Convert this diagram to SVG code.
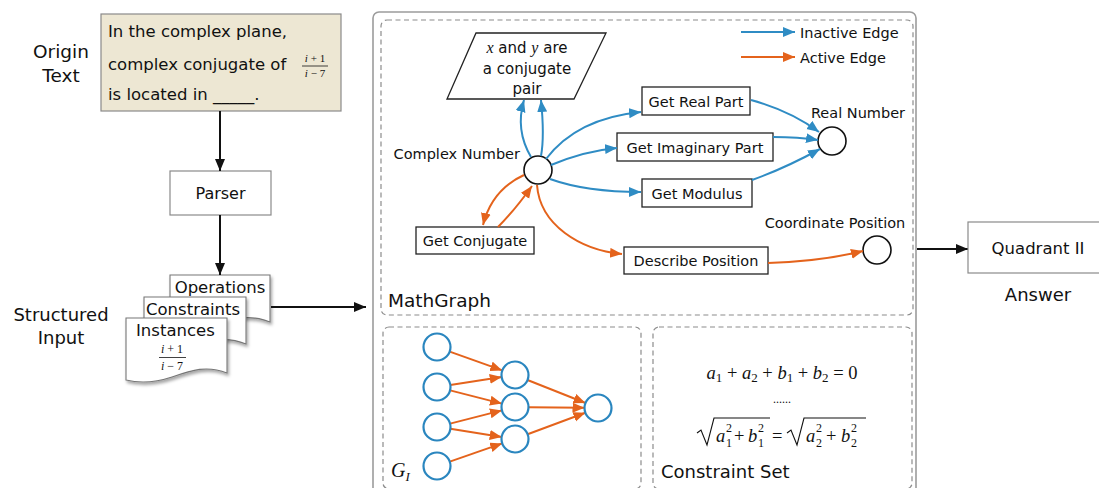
<svg xmlns="http://www.w3.org/2000/svg" width="1099" height="488" viewBox="0 0 1099 488">
  <style>
    .sans { font-family: "DejaVu Sans", "Open Sans", sans-serif; fill: #111; }
    .math { font-family: "Liberation Serif", "DejaVu Serif", serif; fill: #111; }
    .it { font-style: italic; }
    .box { fill: #fff; stroke: #222; stroke-width: 1.3; }
    .gbox { fill: #fff; stroke: #8a8a8a; stroke-width: 1.2; }
    .dash { fill: none; stroke: #8c8c8c; stroke-width: 1.2; stroke-dasharray: 5 3.5; }
    .node { fill: #fff; stroke: #111; stroke-width: 1.6; }
    .gnode { fill: #fff; stroke: #2a86bf; stroke-width: 2.2; }
    .blue { fill: none; stroke: #2f8cc4; stroke-width: 2; marker-end: url(#mBlue); }
    .orange { fill: none; stroke: #e4631c; stroke-width: 2; marker-end: url(#mOrange); }
    .black { fill: none; stroke: #111; stroke-width: 2; marker-end: url(#mBlack); }
    .doc { fill: #fff; stroke: #777; stroke-width: 1.1; filter: url(#shadow); }
  </style>
  <defs>
    <marker id="mBlue" markerUnits="userSpaceOnUse" markerWidth="14" markerHeight="12" refX="12" refY="5" orient="auto">
      <path d="M0,0 L12,5 L0,10 Z" fill="#2f8cc4"/>
    </marker>
    <marker id="mOrange" markerUnits="userSpaceOnUse" markerWidth="14" markerHeight="12" refX="12" refY="5" orient="auto">
      <path d="M0,0 L12,5 L0,10 Z" fill="#e4631c"/>
    </marker>
    <marker id="mBlack" markerUnits="userSpaceOnUse" markerWidth="14" markerHeight="12" refX="12" refY="5" orient="auto">
      <path d="M0,0 L12,5 L0,10 Z" fill="#111"/>
    </marker>
    <filter id="shadow" x="-10%" y="-10%" width="130%" height="140%">
      <feDropShadow dx="1.5" dy="2.5" stdDeviation="1.5" flood-color="#000" flood-opacity="0.35"/>
    </filter>
  </defs>

  <rect width="1099" height="488" fill="#fff"/>

  <!-- left column labels -->
  <text class="sans" x="61" y="58" font-size="18.5" text-anchor="middle">Origin</text>
  <text class="sans" x="61" y="82" font-size="18.5" text-anchor="middle">Text</text>
  <text class="sans" x="61" y="321" font-size="18" text-anchor="middle">Structured</text>
  <text class="sans" x="61" y="344" font-size="18" text-anchor="middle">Input</text>

  <!-- origin text -->
  <g id="origin-text">
    <rect x="101" y="14" width="240" height="97" fill="#ede7d3" stroke="#8a8a8a" stroke-width="1.2"/>
    <text class="sans" x="108" y="37" font-size="16.5">In the complex plane,</text>
    <text class="sans" x="108" y="70" font-size="16.5">complex conjugate of</text>
    <text class="math" x="315" y="62" font-size="11" text-anchor="middle"><tspan class="it">i</tspan> + 1</text>
    <line x1="302" y1="66" x2="328" y2="66" stroke="#111" stroke-width="0.8"/>
    <text class="math" x="315" y="77" font-size="11" text-anchor="middle"><tspan class="it">i</tspan> − 7</text>
    <text class="sans" x="108" y="100" font-size="16.5">is located in _____.</text>
  </g>

  <!-- parser -->
  <g id="parser">
    <rect class="gbox" x="170" y="171" width="101" height="44"/>
    <text class="sans" x="220.5" y="199" font-size="16" text-anchor="middle">Parser</text>
  </g>

  <!-- structured input documents -->
  <g id="structured-input">
    <path class="doc" d="M170,275 H270 V322 C250,314 235,318 215,325 C200,330 185,332 170,328 Z"/>
    <text class="sans" x="220" y="293" font-size="16.5" text-anchor="middle">Operations</text>
    <path class="doc" d="M144,297 H246 V344 C226,336 211,340 191,347 C176,352 161,354 144,350 Z"/>
    <text class="sans" x="146" y="315" font-size="16.5">Constraints</text>
    <path class="doc" d="M126,318 H227 V373 C207,365 192,370 172,377 C157,382 142,384 126,380 Z"/>
    <text class="sans" x="136" y="336" font-size="16.5">Instances</text>
    <text class="math" x="172" y="353" font-size="12" text-anchor="middle"><tspan class="it">i</tspan> + 1</text>
    <line x1="159" y1="357.5" x2="186" y2="357.5" stroke="#111" stroke-width="0.8"/>
    <text class="math" x="172" y="370" font-size="12" text-anchor="middle"><tspan class="it">i</tspan> − 7</text>
  </g>

  <!-- main panel frames -->
  <rect x="373" y="12" width="543" height="500" rx="6" fill="none" stroke="#9c9c9c" stroke-width="1.6"/>
  <rect class="dash" x="381" y="20" width="532" height="295" rx="6"/>
  <rect class="dash" x="383" y="327" width="258" height="162" rx="6"/>
  <rect class="dash" x="653" y="327" width="259" height="162" rx="6"/>

  <!-- legend -->
  <g id="legend">
    <path class="blue" d="M741,32 H795"/>
    <text class="sans" x="800" y="38" font-size="14.5">Inactive Edge</text>
    <path class="orange" d="M741,57 H795"/>
    <text class="sans" x="800" y="63" font-size="14.5">Active Edge</text>
  </g>

  <!-- MathGraph nodes -->
  <g id="conjugate-pair">
    <path class="box" d="M476,33 H606 L574,99 H447 Z"/>
    <text class="sans" x="527" y="53" font-size="15" text-anchor="middle"><tspan class="math it" font-size="16">x</tspan> and <tspan class="math it" font-size="16">y</tspan> are</text>
    <text class="sans" x="527" y="74" font-size="15" text-anchor="middle">a conjugate</text>
    <text class="sans" x="527" y="94" font-size="15" text-anchor="middle">pair</text>
  </g>
  <g id="complex-number">
    <circle class="node" cx="538" cy="170" r="14"/>
    <text class="sans" x="520" y="159" font-size="14.5" text-anchor="end">Complex Number</text>
  </g>
  <g id="get-real-part">
    <rect class="box" x="642" y="87" width="108" height="28"/>
    <text class="sans" x="696" y="107" font-size="14.5" text-anchor="middle">Get Real Part</text>
  </g>
  <g id="get-imaginary-part">
    <rect class="box" x="617" y="133" width="156" height="28"/>
    <text class="sans" x="695" y="153" font-size="14.5" text-anchor="middle">Get Imaginary Part</text>
  </g>
  <g id="get-modulus">
    <rect class="box" x="642" y="179" width="110" height="28"/>
    <text class="sans" x="697" y="199" font-size="14.5" text-anchor="middle">Get Modulus</text>
  </g>
  <g id="describe-position">
    <rect class="box" x="624" y="247" width="144" height="27"/>
    <text class="sans" x="696" y="266" font-size="14.5" text-anchor="middle">Describe Position</text>
  </g>
  <g id="get-conjugate">
    <rect class="box" x="416" y="227" width="118" height="27"/>
    <text class="sans" x="475" y="246" font-size="14.5" text-anchor="middle">Get Conjugate</text>
  </g>
  <g id="real-number">
    <circle class="node" cx="832" cy="141" r="14"/>
    <text class="sans" x="858" y="118" font-size="14.5" text-anchor="middle">Real Number</text>
  </g>
  <g id="coordinate-position">
    <circle class="node" cx="877" cy="250" r="14"/>
    <text class="sans" x="835" y="228" font-size="14.5" text-anchor="middle">Coordinate Position</text>
  </g>
  <text class="sans" x="388" y="307" font-size="18.5">MathGraph</text>

  <!-- connectors -->
  <g id="connectors">
    <path class="black" d="M220,111 V171"/>
    <path class="black" d="M220,215 V275"/>
    <path class="black" d="M271,307 H366"/>
    <path class="black" d="M917,249 H968"/>

    <path class="blue" d="M531,157 C521,140 518,120 524,100"/>
    <path class="blue" d="M541,156 C544,140 543,120 541,100"/>
    <path class="blue" d="M546,159 C568,130 600,116 641,112"/>
    <path class="blue" d="M551,165 C575,155 595,150 617,148"/>
    <path class="blue" d="M550,179 C575,188 605,192 641,192"/>
    <path class="blue" d="M751,100 C780,108 800,118 819,132"/>
    <path class="blue" d="M773,137 C790,137 805,138 818,140"/>
    <path class="blue" d="M752,180 C780,170 800,160 820,149"/>

    <path class="orange" d="M524,175 C500,186 488,205 483,225"/>
    <path class="orange" d="M498,227 C510,215 522,200 532,186"/>
    <path class="orange" d="M537,185 C540,225 580,250 622,254"/>
    <path class="orange" d="M768,263 C800,262 835,258 863,251"/>

    <path class="orange" d="M449.7,351.6 L502.3,370.4"/>
    <path class="orange" d="M450.3,385.0 L501.7,377.1"/>
    <path class="orange" d="M450.1,390.4 L501.9,403.6"/>
    <path class="orange" d="M450.1,423.6 L501.9,410.4"/>
    <path class="orange" d="M450.3,428.8 L501.7,436.9"/>
    <path class="orange" d="M449.8,461.6 L502.2,443.4"/>
    <path class="orange" d="M527.5,380.0 L585.5,403.0"/>
    <path class="orange" d="M528.5,407.2 L584.5,407.8"/>
    <path class="orange" d="M527.6,434.3 L585.4,412.7"/>
  </g>

  <!-- G_I network -->
  <g id="graph-instance">
    <circle class="gnode" cx="437" cy="347" r="13.5"/>
    <circle class="gnode" cx="437" cy="387" r="13.5"/>
    <circle class="gnode" cx="437" cy="427" r="13.5"/>
    <circle class="gnode" cx="437" cy="466" r="13.5"/>
    <circle class="gnode" cx="515" cy="375" r="13.5"/>
    <circle class="gnode" cx="515" cy="407" r="13.5"/>
    <circle class="gnode" cx="515" cy="439" r="13.5"/>
    <circle class="gnode" cx="598" cy="408" r="13.5"/>
    <text class="math it" x="391" y="477" font-size="20">G<tspan font-size="13" dy="4">I</tspan></text>
  </g>

  <!-- constraint set -->
  <g id="constraint-set">
    <text class="math" x="782" y="379" font-size="18.5" text-anchor="middle"><tspan class="it">a</tspan><tspan font-size="13" dy="3">1</tspan><tspan dy="-3"> + </tspan><tspan class="it">a</tspan><tspan font-size="13" dy="3">2</tspan><tspan dy="-3"> + </tspan><tspan class="it">b</tspan><tspan font-size="13" dy="3">1</tspan><tspan dy="-3"> + </tspan><tspan class="it">b</tspan><tspan font-size="13" dy="3">2</tspan><tspan dy="-3"> = 0</tspan></text>
    <text class="math" x="782" y="403" font-size="12" text-anchor="middle">......</text>

    <!-- left radical: a1^2 + b1^2 -->
    <path d="M697,433 L701,430 L707,445 L714,418 H770" fill="none" stroke="#111" stroke-width="1.1"/>
    <text class="math it" x="716" y="442" font-size="18.5">a</text>
    <text class="math" x="726" y="432" font-size="12">2</text>
    <text class="math" x="726" y="447" font-size="12">1</text>
    <text class="math" x="734" y="442" font-size="18.5">+</text>
    <text class="math it" x="748" y="442" font-size="18.5">b</text>
    <text class="math" x="758" y="432" font-size="12">2</text>
    <text class="math" x="758" y="447" font-size="12">1</text>
    <text class="math" x="772" y="442" font-size="18.5">=</text>

    <!-- right radical: a2^2 + b2^2 -->
    <path d="M787,433 L791,430 L797,445 L804,418 H866" fill="none" stroke="#111" stroke-width="1.1"/>
    <text class="math it" x="806" y="442" font-size="18.5">a</text>
    <text class="math" x="816" y="432" font-size="12">2</text>
    <text class="math" x="816" y="447" font-size="12">2</text>
    <text class="math" x="826" y="442" font-size="18.5">+</text>
    <text class="math it" x="841" y="442" font-size="18.5">b</text>
    <text class="math" x="851" y="432" font-size="12">2</text>
    <text class="math" x="851" y="447" font-size="12">2</text>

    <text class="sans" x="661" y="478" font-size="18">Constraint Set</text>
  </g>

  <!-- answer -->
  <g id="answer">
    <rect class="gbox" x="968" y="222" width="140" height="51"/>
    <text class="sans" x="1038" y="254" font-size="16.5" text-anchor="middle">Quadrant II</text>
    <text class="sans" x="1038" y="301" font-size="18" text-anchor="middle">Answer</text>
  </g>
</svg>
